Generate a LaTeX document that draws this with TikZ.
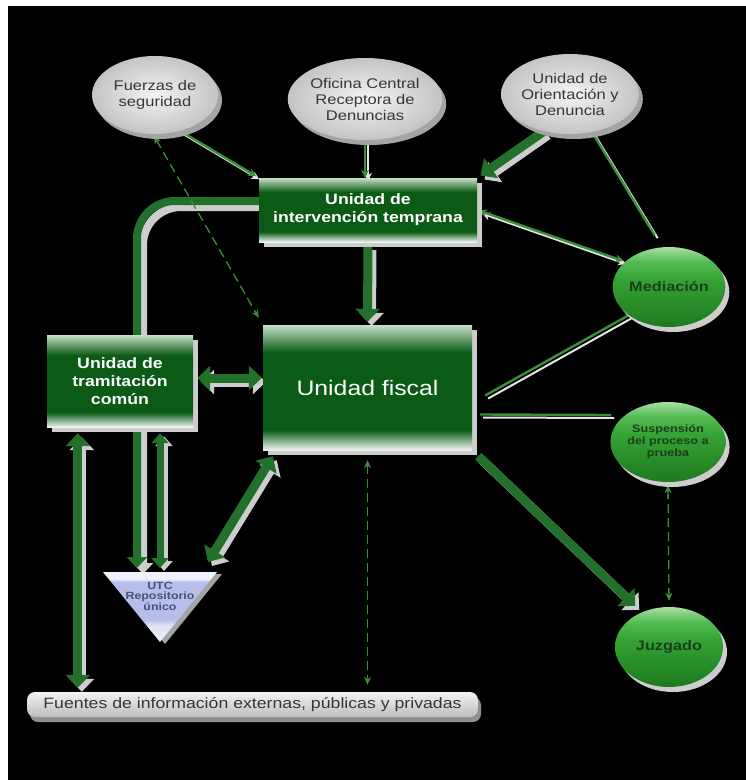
\documentclass[tikz,border=0pt]{standalone}
\usepackage{fontspec}
\setmainfont[FakeStretch=1.18]{Liberation Sans}
\usetikzlibrary{arrows.meta,calc,shadows,shapes.geometric}
\definecolor{dg}{HTML}{0B5B16}
\definecolor{boxtop}{HTML}{C6E0C6}
\definecolor{boxbot}{HTML}{EEF6EE}
\definecolor{ag}{HTML}{22702A}
\definecolor{shd}{HTML}{CDCDCD}
\definecolor{tg}{HTML}{3B8F3B}
\definecolor{tw}{HTML}{E6E6E6}
\definecolor{txtg}{HTML}{363636}
\definecolor{ellA}{HTML}{F4F4F4}
\definecolor{ellB}{HTML}{C4C4C4}
\definecolor{grA}{HTML}{A8E0A0}
\definecolor{grB}{HTML}{56BC56}
\definecolor{grC}{HTML}{35A335}
\definecolor{grD}{HTML}{1D7A1D}
\definecolor{grtxt}{HTML}{1B3F1B}
\definecolor{lavA}{HTML}{F0F2FB}
\definecolor{lavB}{HTML}{B6BEEA}
\definecolor{lavC}{HTML}{DFE3F7}
\definecolor{repotxt}{HTML}{4A5078}
\definecolor{barA}{HTML}{F2F2F2}
\definecolor{barB}{HTML}{BDBDBD}
\pgfdeclareverticalshading{boxsh}{100bp}{color(0bp)=(boxbot); color(25bp)=(boxbot); color(33bp)=(dg); color(64bp)=(dg); color(75bp)=(boxtop); color(100bp)=(boxtop)}
\pgfdeclareverticalshading{grsh}{100bp}{color(0bp)=(grD); color(25bp)=(grD); color(55bp)=(grC); color(66bp)=(grB); color(75bp)=(grA); color(100bp)=(grA)}
\pgfdeclareverticalshading{reposh}{100bp}{color(0bp)=(lavA); color(25bp)=(lavA); color(37bp)=(lavC); color(41bp)=(lavB); color(68bp)=(lavB); color(70bp)=(lavA); color(100bp)=(lavA)}
\pgfdeclarelayer{back}
\pgfdeclarelayer{conn}
\pgfsetlayers{back,conn,main}
\begin{document}
\begin{tikzpicture}[x=1pt,y=-1pt,
  gell/.style={ellipse, inner sep=0pt, inner color=ellA, outer color=ellB,
    drop shadow={shadow xshift=4pt,shadow yshift=-5pt,fill=shd!80!black,opacity=1},
    text=txtg, align=center, font=\fontsize{14}{16}\selectfont},
  grell/.style={ellipse, inner sep=0pt, minimum width=108pt, minimum height=80pt, shading=grsh,
    drop shadow={shadow xshift=4pt,shadow yshift=-5pt,fill=shd,opacity=1},
    text=grtxt, align=center, font=\bfseries\fontsize{13.8}{16}\selectfont},
  gbox/.style={rectangle, inner sep=0pt, shading=boxsh,
    drop shadow={shadow xshift=5pt,shadow yshift=-5pt,fill=shd,opacity=1},
    text=white, align=center, font=\bfseries\fontsize{15}{18}\selectfont},
  fbar/.style={rectangle, rounded corners=8pt, inner sep=0pt, top color=barA, bottom color=barB,
    drop shadow={shadow xshift=3pt,shadow yshift=-5pt,fill=shd!70!black,opacity=1},
    text=txtg, font=\fontsize{15}{18}\selectfont},
  barrow/.style={draw=ag, line width=9pt, -{Triangle[width=24pt,length=13pt]},
    preaction={draw=shd, line width=9pt, -{Triangle[width=24pt,length=13pt]}, transform canvas={xshift=4pt,yshift=-4pt}}},
  bbarrow/.style={draw=ag, line width=9pt, {Triangle[width=24pt,length=13pt]}-{Triangle[width=24pt,length=13pt]},
    preaction={draw=shd, line width=9pt, {Triangle[width=24pt,length=13pt]}-{Triangle[width=24pt,length=13pt]}, transform canvas={xshift=4pt,yshift=-4pt}}},
  sbarrow/.style={draw=ag, line width=7pt, {Triangle[width=17pt,length=10pt]}-{Triangle[width=17pt,length=10pt]},
    preaction={draw=shd, line width=7pt, {Triangle[width=17pt,length=10pt]}-{Triangle[width=17pt,length=10pt]}, transform canvas={xshift=4pt,yshift=-3pt}}},
  pipe/.style={draw=ag, line width=8pt, rounded corners=38pt, -{Triangle[width=20pt,length=11pt]},
    preaction={draw=shd, line width=8pt, -{Triangle[width=20pt,length=11pt]}, transform canvas={xshift=6pt,yshift=-6pt}}},
  twin/.style={draw=tg, line width=2.4pt,
    preaction={draw=tw, line width=2pt, transform canvas={xshift=3pt,yshift=-3pt}}},
  dline/.style={draw=tg, line width=1.3pt, dash pattern=on 9pt off 5pt,
    {Stealth[length=8pt,width=7pt]}-{Stealth[length=8pt,width=7pt]}},
  tip/.style={-{Stealth[length=8pt,width=8pt]}},
  tips/.style={{Stealth[length=8pt,width=8pt]}-{Stealth[length=8pt,width=8pt]}}
]
\useasboundingbox (0,0) rectangle (746,780);
\begin{pgfonlayer}{back}
\fill[white] (0,0) rectangle (746,780);
\fill[black] (8,6) rectangle (746,780);
\end{pgfonlayer}

% nodes
\node[gell, minimum width=126pt, minimum height=78pt] (fuerzas) at (155,95) {Fuerzas de\\seguridad};
\node[gell, minimum width=134pt, minimum height=82pt] (oficina) at (365,99) {Oficina Central\\Receptora de\\Denuncias};
\node[gell, minimum width=130pt, minimum height=80pt] (orient) at (570,94) {Unidad de\\Orientación y\\Denuncia};

\node[gbox, minimum width=218pt, minimum height=64pt] (uit) at (368,210) {Unidad de\\intervención temprana};
\node[gbox, minimum width=209pt, minimum height=125pt, font=\fontsize{21}{24}\selectfont] (fiscal) at (367.5,387.5) {Unidad fiscal};
\node[gbox, minimum width=146pt, minimum height=92pt] (utc) at (120,381) {Unidad de\\tramitación\\común};

\node[grell] (med) at (669,287) {Mediación};
\node[grell, font=\bfseries\fontsize{10.7}{12}\selectfont] (susp) at (668,442) {Suspensión\\del proceso a\\prueba};
\node[grell] (juz) at (669,647) {Juzgado};

\path[shading=reposh, drop shadow={shadow xshift=5pt,shadow yshift=-2pt,fill=shd!80!black,opacity=1}] (103,572) -- (217,572) -- (160,642) -- cycle;
\node[text=repotxt, align=center, font=\bfseries\fontsize{10.5}{10.5}\selectfont] (repo) at (160,596) {UTC\\Repositorio\\único};
\coordinate (repoL) at (137,568);
\coordinate (repoM) at (160,568);
\coordinate (repoR) at (208,562);

\node[fbar, minimum width=451pt, minimum height=25pt] (fuentes) at (252.5,704.5) {Fuentes de información externas, públicas y privadas};

% connectors
\begin{pgfonlayer}{conn}
\draw[pipe] ($(uit.west)+(2,-9)$) -| (repoL);
\draw[twin, tip, shorten >=3pt] (fuerzas.-55) -- (uit.north west);
\draw[dline, shorten <=2pt, shorten >=8pt] (fuerzas.-93) -- (fiscal.north west);
\draw[twin, tip] (oficina.south) -- (oficina.south |- uit.north);
\draw[barrow, shorten >=4pt] (orient.-125) -- (uit.north east);
\draw[twin, shorten >=14pt] (orient.-60) -- (med.100);
\draw[twin, tips, shorten >=2pt, shorten <=2pt] (med.150) -- (uit.east);
\draw[barrow, shorten <=4pt, shorten >=3pt] (uit.south) -- (fiscal.north);
\draw[twin] (med.215) -- ($(fiscal.east)+(13,8)$);
\draw[twin] ($(fiscal.east)+(8,27)$) -- ($(susp.west)+(1,-27)$);
\draw[barrow, shorten >=9pt] ($(fiscal.south east)+(6,6)$) -- (juz.128);
\draw[dline, shorten <=3pt, shorten >=6pt] (susp.south) -- (juz.north);
\draw[dline, shorten <=10pt, shorten >=7pt] (fiscal.south) -- (fiscal.south |- fuentes.north);
\draw[bbarrow] ($(utc.east)+(4,-3)$) -- ($(fiscal.west)+(-1,-9.5)$);
\draw[bbarrow] ($(fiscal.south west)+(10,6)$) -- (repoR);
\draw[bbarrow] ($(utc.south west)+(31,6)$) -- ($(fuentes.north west)+(51,-4)$);
\draw[sbarrow] ($(utc.south)+(40,6)$) -- (repoM);
\end{pgfonlayer}
\end{tikzpicture}
\end{document}
